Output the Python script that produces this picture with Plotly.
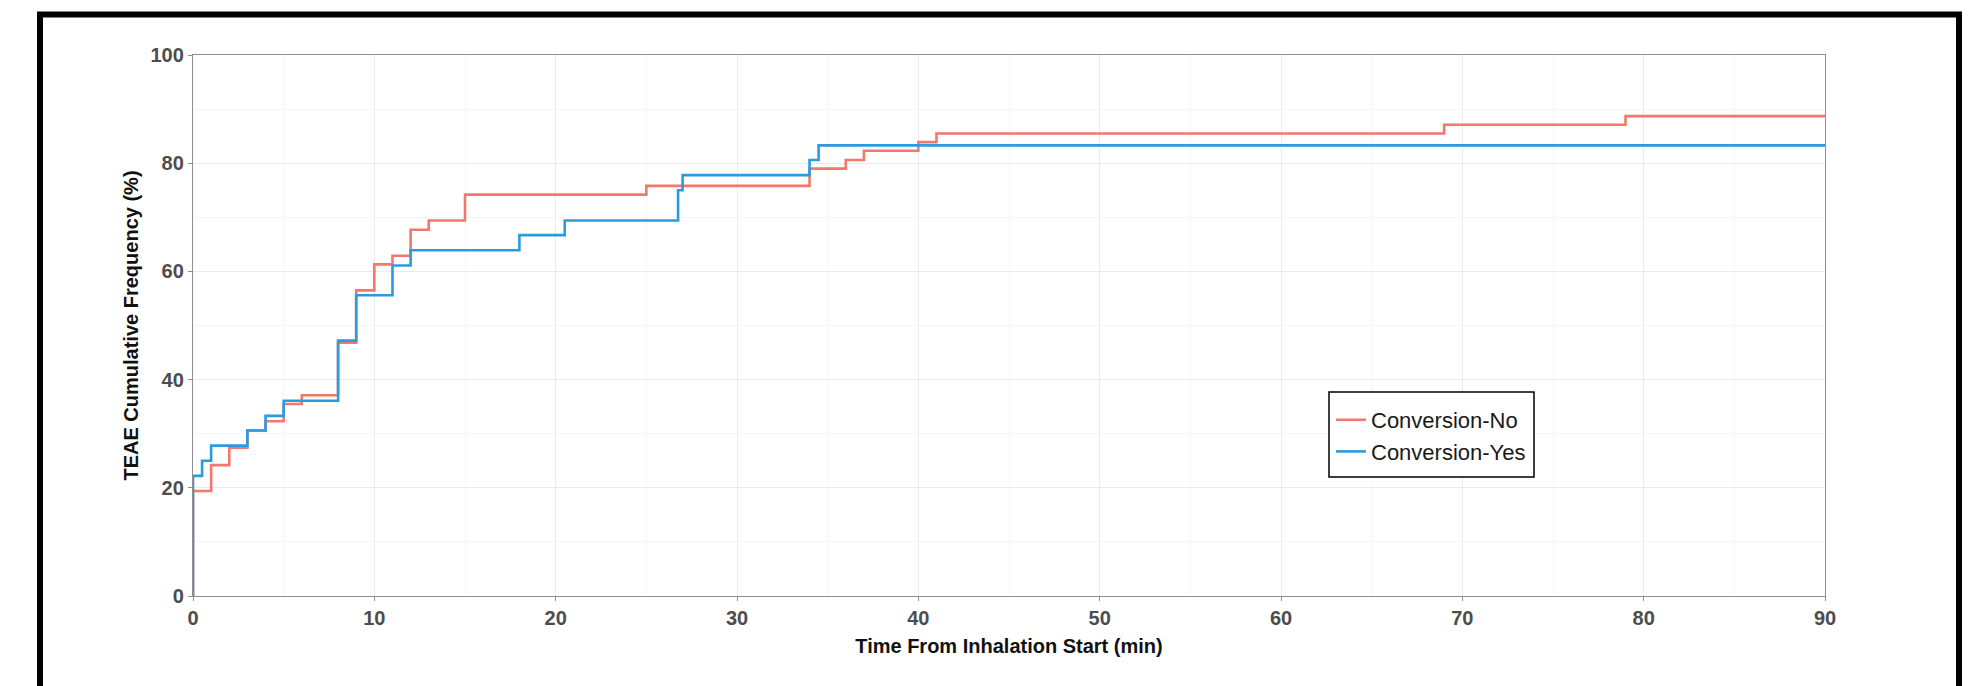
import plotly.graph_objects as go

# ---- data ----
time_no = [0, 0, 1, 2, 3, 4, 5, 6, 8, 9, 10, 11, 12, 13, 15, 25, 34, 36, 37, 40, 41, 69, 79, 90]
pct_no = [0, 19.4, 24.2, 27.4, 30.6, 32.3, 35.5, 37.1, 46.8, 56.5, 61.3, 62.9, 67.7, 69.4,
          74.2, 75.8, 79.0, 80.6, 82.3, 83.9, 85.5, 87.1, 88.7, 88.7]

time_yes = [0, 0, 0.5, 1, 3, 4, 5, 8, 9, 11, 12, 18, 20.5, 26.75, 27, 34, 34.5, 90]
pct_yes = [0, 22.2, 25.0, 27.8, 30.6, 33.3, 36.1, 47.2, 55.6, 61.1, 63.9, 66.7, 69.4,
           75.0, 77.8, 80.6, 83.3, 83.3]

series_names = ["Conversion-No", "Conversion-Yes"]
series_colors = ["#F4776B", "#2B9BE0"]

x_ticks = [0, 10, 20, 30, 40, 50, 60, 70, 80, 90]
y_ticks = [0, 20, 40, 60, 80, 100]

x_title = "Time From Inhalation Start (min)"
y_title = "TEAE Cumulative Frequency (%)"

FONT = "Arial, 'Liberation Sans', Helvetica, sans-serif"

fig = go.Figure()
for name, xs, ys, col in [
    (series_names[0], time_no, pct_no, series_colors[0]),
    (series_names[1], time_yes, pct_yes, series_colors[1]),
]:
    fig.add_trace(go.Scatter(
        x=xs, y=ys, mode="lines", name=name,
        line=dict(color=col, width=2.6, shape="hv"),
    ))

axis_common = dict(
    showline=True, linecolor="#8F8F8F", linewidth=1.3, mirror=True,
    ticks="outside", ticklen=4, tickcolor="#8F8F8F", tickwidth=1.2,
    showgrid=True, gridcolor="#EBEBEB", gridwidth=1,
    zeroline=False,
    tickfont=dict(family=FONT, size=20, color="#4D4D4D", weight="bold"),
)

fig.update_xaxes(
    range=[0, 90], tickvals=x_ticks, ticktext=[str(v) for v in x_ticks],
    minor=dict(dtick=5, showgrid=True, gridcolor="#F5F5F5", gridwidth=1, ticks=""),
    title=dict(text=x_title, font=dict(family=FONT, size=20, color="#111111", weight="bold"),
               standoff=10),
    **axis_common,
)
fig.update_yaxes(
    range=[0, 100], tickvals=y_ticks, ticktext=[str(v) for v in y_ticks],
    minor=dict(dtick=10, showgrid=True, gridcolor="#F5F5F5", gridwidth=1, ticks=""),
    title=dict(text=y_title, font=dict(family=FONT, size=20, color="#111111", weight="bold"),
               standoff=6),
    **axis_common,
)

# page has an 8px body offset, so the figure is placed 8px right/down
OFF = 8
L, R, T, B = 193 - OFF, 151 + OFF, 55 - OFF, 90 + OFF
W, H = 1976, 686
pw, ph = W - L - R, H - T - B

def px_x(p):
    return (p - OFF - L) / pw

def px_y(p):
    return (H - B - (p - OFF)) / ph

# black outer frame (decoration)
fig.add_shape(type="rect", xref="paper", yref="paper",
              x0=px_x(40), x1=px_x(1959), y0=px_y(720), y1=px_y(14.5),
              line=dict(color="black", width=6), fillcolor="rgba(0,0,0,0)", layer="above")

# legend box (decoration drawn behind the legend entries)
fig.add_shape(type="rect", xref="paper", yref="paper",
              x0=px_x(1329), x1=px_x(1534), y0=px_y(477), y1=px_y(392),
              line=dict(color="black", width=1.5), fillcolor="white", layer="above")

fig.update_layout(
    width=W, height=H,
    margin=dict(l=L, r=R, t=T, b=B),
    paper_bgcolor="white", plot_bgcolor="white",
    font=dict(family=FONT),
    showlegend=True,
    legend=dict(
        x=px_x(1331), y=px_y(399), xanchor="left", yanchor="top",
        bgcolor="rgba(0,0,0,0)", borderwidth=0,
        font=dict(family=FONT, size=22, color="#1A1A1A"),
        itemwidth=30, tracegroupgap=0,
    ),
)

fig.write_html("out.html")
